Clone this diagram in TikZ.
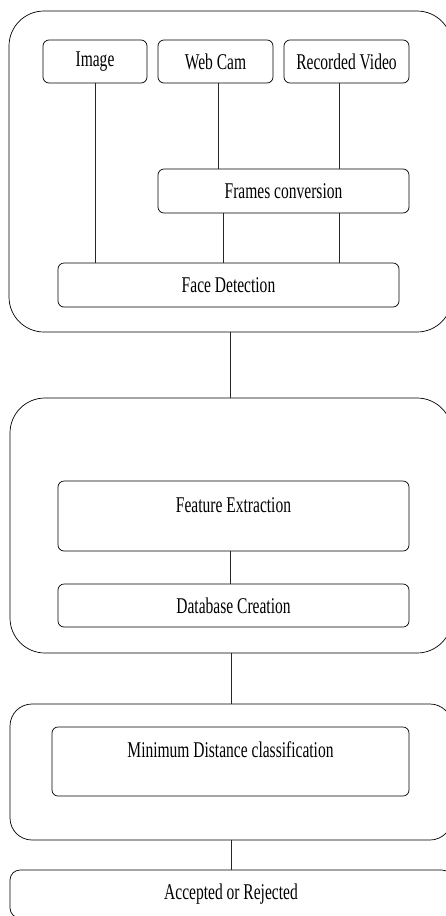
\documentclass[tikz,border=0pt]{standalone}
\usepackage{fontspec}
\setmainfont{Liberation Serif}[FakeStretch=0.69]

\begin{document}
\begin{tikzpicture}[x=1pt, y=-1pt, font=\fontsize{22.5}{24}\selectfont]
    \tikzstyle{stage box} = [draw=black, line width=0.7pt, rounded corners=35pt, inner sep=0pt]
    \tikzstyle{step box} = [draw=black, line width=0.7pt, rounded corners=6pt, inner sep=0pt, minimum height=43pt]
    \tikzstyle{tall step box} = [step box, text height=31pt, text depth=39pt]
    \tikzstyle{link} = [draw=black!85, line width=0.6pt]
\useasboundingbox (0,0) rectangle (446,916);
\node[stage box, minimum width=443pt, minimum height=321pt] (stage1) at (230.5, 171.5) {};
\node[stage box, minimum width=442pt, minimum height=255pt] (stage2) at (231, 525.5) {};
\node[stage box, rounded corners=22pt, minimum width=442pt, minimum height=136pt] (stage3) at (231, 772) {};
\node[step box, rounded corners=10pt, minimum width=442pt, minimum height=48pt] (result) at (231, 894) {Accepted or Rejected};
\node[step box, minimum width=104pt] (image) at (95, 61.5) {Image};
\node[step box, minimum width=115pt] (webcam) at (215.5, 61.5) {Web Cam};
\node[step box, minimum width=125pt] (recvid) at (346.5, 61.5) {Recorded Video};
\node[step box, minimum width=251pt, minimum height=44pt] (frames) at (283.5, 191) {Frames conversion};
\node[step box, minimum width=341pt, minimum height=44pt] (face) at (228.5, 285) {Face Detection};
\node[tall step box, minimum width=351pt] (feature) at (233.5, 516) {Feature Extraction};
\node[step box, minimum width=351pt] (database) at (233.5, 605.5) {Database Creation};
\node[tall step box, text height=30pt, minimum width=357pt] (mindist) at (230.5, 761.5) {Minimum Distance classification};
\draw[link] (image.south) -- (image.south |- face.north);
\draw[link] ([xshift=2.5pt]webcam.south) -- ([xshift=2.5pt]webcam.south |- frames.north);
\draw[link] ([xshift=-7.5pt]recvid.south) -- ([xshift=-7.5pt]recvid.south |- frames.north);
\draw[link] ([xshift=-60.5pt]frames.south) -- ([xshift=-60.5pt]frames.south |- face.north);
\draw[link] ([xshift=55.5pt]frames.south) -- ([xshift=55.5pt]frames.south |- face.north);
\draw[link] (stage1.south) -- (stage1.south |- stage2.north);
\draw[link] ([xshift=-3.5pt]feature.south) -- ([xshift=-3.5pt]feature.south |- database.north);
\draw[link] (stage2.south) -- (stage2.south |- stage3.north);
\draw[link] (stage3.south) -- (stage3.south |- result.north);
\end{tikzpicture}
\end{document}
